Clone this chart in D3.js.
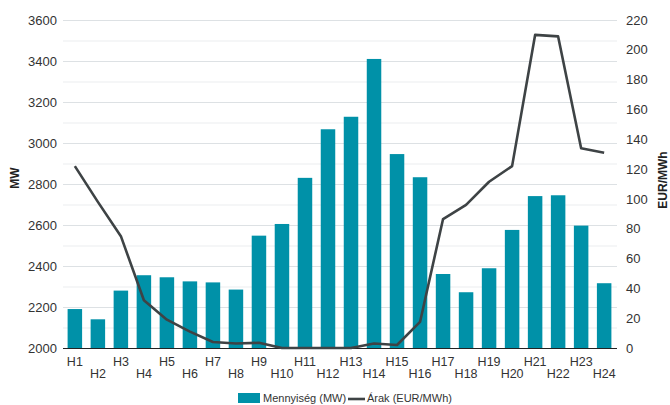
<!DOCTYPE html>
<html>
<head>
<meta charset="utf-8">
<script src="https://cdn.jsdelivr.net/npm/d3@7"></script>
<style>
  html, body { margin: 0; padding: 0; background: #fff; }
  svg { display: block; font-family: "Liberation Sans", Arial, Helvetica, sans-serif; }
</style>
</head>
<body>
<svg id="chart" width="670" height="405"></svg>
<script>
// Hourly traded volume (MW) and price (EUR/MWh)
const hours = ["H1","H2","H3","H4","H5","H6","H7","H8","H9","H10","H11","H12",
               "H13","H14","H15","H16","H17","H18","H19","H20","H21","H22","H23","H24"];
const volumeMW = [2190, 2140, 2280, 2355, 2345, 2325, 2320, 2285, 2548, 2605, 2830, 3067,
                  3128, 3410, 2946, 2833, 2361, 2272, 2389, 2576, 2741, 2745, 2597, 2316];
const priceEUR = [122, 98, 75, 32, 19, 11, 4, 3, 3.5, 0, 0, 0,
                  0, 3, 2, 17.5, 86.5, 96, 111.5, 122, 210, 209, 134, 131];
const leftTicks = [2000, 2200, 2400, 2600, 2800, 3000, 3200, 3400, 3600];
const rightTicks = [0, 20, 40, 60, 80, 100, 120, 140, 160, 180, 200, 220];
const gridValues = d3.range(2000, 3601, 100);

const svg = d3.select("#chart");
const plotLeft = 63, plotRight = 616, plotTop = 20, plotBottom = 348;

const x = d3.scaleBand().domain(hours).range([plotLeft, plotRight]).paddingInner(0.37).paddingOuter(0.2);
const yL = d3.scaleLinear().domain([2000, 3600]).range([plotBottom, plotTop]);
const yR = d3.scaleLinear().domain([0, 220]).range([plotBottom, plotTop]);

// horizontal gridlines
svg.append("g").selectAll("line").data(gridValues).join("line")
  .attr("x1", plotLeft).attr("x2", plotRight + 1)
  .attr("y1", d => yL(d) + 0.5).attr("y2", d => yL(d) + 0.5)
  .attr("stroke", d => d % 200 === 0 ? "#dde1e4" : "#eceef0")
  .attr("stroke-width", 1.2);

// volume bars
svg.append("g").selectAll("rect").data(hours).join("rect")
  .attr("x", d => x(d))
  .attr("width", x.bandwidth())
  .attr("y", (d, i) => yL(volumeMW[i]))
  .attr("height", (d, i) => yL(2000) - yL(volumeMW[i]))
  .attr("fill", "#0091a8");

// baseline
svg.append("line")
  .attr("x1", plotLeft).attr("x2", plotRight + 1)
  .attr("y1", plotBottom + 0.5).attr("y2", plotBottom + 0.5)
  .attr("stroke", "#222").attr("stroke-width", 1);

// price line
const line = d3.line()
  .x((d, i) => x(hours[i]) + x.bandwidth() / 2)
  .y(d => yR(d));
svg.append("path")
  .datum(priceEUR)
  .attr("d", line)
  .attr("fill", "none")
  .attr("stroke", "#3e4345")
  .attr("stroke-width", 2.6)
  .attr("stroke-linejoin", "round");

// left axis
const axL = svg.append("g").attr("transform", `translate(${plotLeft - 6},0)`)
  .call(d3.axisLeft(yL).tickValues(leftTicks).tickSize(0).tickPadding(0).tickFormat(d3.format("d")));
axL.select(".domain").remove();
axL.selectAll("text").attr("font-size", 13).attr("fill", "#333").attr("font-family", "Liberation Sans, Arial, sans-serif");

// right axis
const axR = svg.append("g").attr("transform", `translate(${plotRight + 10},0)`)
  .call(d3.axisRight(yR).tickValues(rightTicks).tickSize(0).tickPadding(0).tickFormat(d3.format("d")));
axR.select(".domain").remove();
axR.selectAll("text").attr("font-size", 13).attr("fill", "#333").attr("font-family", "Liberation Sans, Arial, sans-serif");

// bottom axis with staggered labels
const axB = svg.append("g").attr("transform", `translate(0,${plotBottom})`)
  .call(d3.axisBottom(x).tickSize(0).tickPadding(0));
axB.select(".domain").remove();
axB.selectAll("text")
  .attr("font-size", 12.5).attr("fill", "#333")
  .attr("font-family", "Liberation Sans, Arial, sans-serif")
  .attr("dy", null)
  .attr("y", (d, i) => i % 2 === 0 ? 18 : 30);

// axis titles
svg.append("text")
  .attr("transform", "translate(19,178) rotate(-90)")
  .attr("text-anchor", "middle")
  .attr("font-size", 12).attr("font-weight", "bold").attr("fill", "#222")
  .text("MW");
svg.append("text")
  .attr("transform", "translate(667,180) rotate(-90)")
  .attr("text-anchor", "middle")
  .attr("font-size", 12).attr("font-weight", "bold").attr("fill", "#222")
  .text("EUR/MWh");

// legend
const lg = svg.append("g");
lg.append("rect").attr("x", 238).attr("y", 393).attr("width", 22).attr("height", 10).attr("fill", "#0091a8");
lg.append("text").attr("x", 263).attr("y", 402).attr("font-size", 11).attr("fill", "#333").text("Mennyiség (MW)");
lg.append("line").attr("x1", 348).attr("x2", 365).attr("y1", 399).attr("y2", 399)
  .attr("stroke", "#3e4345").attr("stroke-width", 2.6);
lg.append("text").attr("x", 367).attr("y", 402).attr("font-size", 11).attr("fill", "#333").text("Árak (EUR/MWh)");
</script>
</body>
</html>
